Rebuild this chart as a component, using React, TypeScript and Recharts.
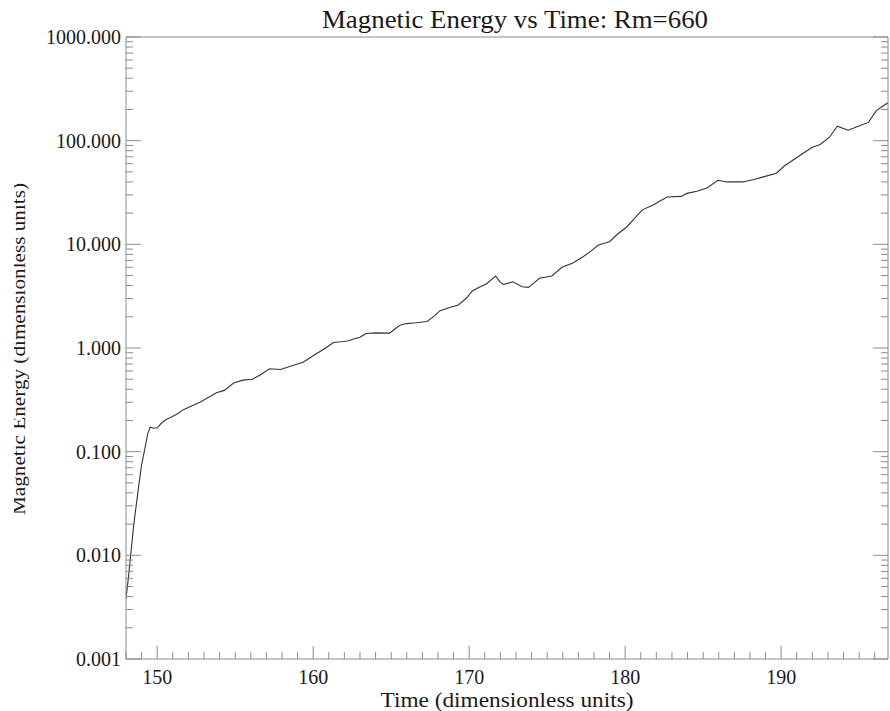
import React from 'react';
import { LineChart, Line, XAxis, YAxis } from 'recharts';

const times = [
  148.0, 148.15, 148.3, 148.5, 148.8, 149.0, 149.2, 149.4, 149.55, 149.8,
  150.0, 150.3, 150.6, 150.95, 151.3, 151.65, 152.2, 152.74, 153.3, 153.8,
  154.3, 154.9, 155.5, 156.1, 156.6, 157.2, 157.9, 158.6, 159.35, 160.2,
  160.8, 161.3, 161.8, 162.2, 162.6, 163.0, 163.4, 164.0, 164.9, 165.3,
  165.6, 166.0, 166.6, 167.3, 167.8, 168.1, 168.7, 169.3, 169.8, 170.2,
  170.7, 171.1, 171.7, 172.0, 172.2, 172.8, 173.4, 173.8, 174.2, 174.5,
  175.3, 175.95, 176.65, 177.3, 177.8, 178.26, 178.6, 179.0, 179.5, 180.1,
  180.6, 181.1, 181.8, 182.2, 182.7, 183.6, 183.96, 184.6, 185.24, 185.95,
  186.5, 187.55, 188.2, 188.8, 189.7, 190.2, 191.2, 191.97, 192.5, 193.1,
  193.6, 194.3, 194.9, 195.6, 196.1, 196.5, 196.85,
];

const magneticEnergy = [
  0.0038, 0.006, 0.010, 0.020, 0.045, 0.075, 0.105, 0.15, 0.172, 0.168,
  0.170, 0.19, 0.205, 0.217, 0.232, 0.253, 0.275, 0.30, 0.335, 0.37,
  0.39, 0.46, 0.49, 0.50, 0.55, 0.63, 0.62, 0.67, 0.73, 0.88,
  1.0, 1.13, 1.15, 1.17, 1.22, 1.27, 1.38, 1.40, 1.39, 1.55,
  1.67, 1.72, 1.75, 1.80, 2.05, 2.28, 2.45, 2.6, 3.0, 3.55,
  3.9, 4.15, 4.95, 4.3, 4.1, 4.35, 3.9, 3.85, 4.3, 4.7,
  4.95, 6.0, 6.6, 7.6, 8.6, 9.8, 10.2, 10.6, 12.5, 14.7,
  17.8, 21.5, 24, 26, 28.6, 29.0, 31, 32.5, 35, 41.5,
  40, 40, 42, 44.5, 48.5, 57, 72, 86, 92, 108,
  138, 126, 137, 150, 195, 215, 232,
];

const xTicks = [
  148, 149, 150, 151, 152, 153, 154, 155, 156, 157, 158, 159, 160, 161, 162, 163, 164,
  165, 166, 167, 168, 169, 170, 171, 172, 173, 174, 175, 176, 177, 178, 179, 180, 181,
  182, 183, 184, 185, 186, 187, 188, 189, 190, 191, 192, 193, 194, 195, 196,
];
const xMajorTicks = [150, 160, 170, 180, 190];

const yDecades = [0.001, 0.01, 0.1, 1, 10, 100, 1000];
const yDecadeLabels = ['0.001', '0.010', '0.100', '1.000', '10.000', '100.000', '1000.000'];
const yMinorMultipliers = [2, 3, 4, 5, 6, 7, 8, 9];

const titleText = 'Magnetic Energy vs Time: Rm=660';
const xLabelText = 'Time (dimensionless units)';
const yLabelText = 'Magnetic Energy (dimensionless units)';

const data = times.map((t, i) => ({ t, e: magneticEnergy[i] }));
const yTicks: number[] = [];
yDecades.forEach((d, i) => {
  yTicks.push(d);
  if (i < yDecades.length - 1) yMinorMultipliers.forEach((m) => yTicks.push(d * m));
});

const AXIS = '#8c8c8c';
const TEXT = '#1a1a1a';
const FONT = '"Liberation Serif", "Times New Roman", serif';
const MAJOR_LEN = 15;
const MINOR_LEN = 7;

const decadeIndex = (v: number) => {
  for (let i = 0; i < yDecades.length; i++) {
    if (Math.abs(v - yDecades[i]) / yDecades[i] < 1e-6) return i;
  }
  return -1;
};

const LeftTick = (props: any) => {
  const { x, y, payload } = props;
  const idx = decadeIndex(payload.value);
  const major = idx >= 0;
  return (
    <g>
      <line x1={x} x2={x + (major ? MAJOR_LEN : MINOR_LEN)} y1={y} y2={y} stroke={AXIS} />
      {major && (
        <text x={x - 5} y={y + 7} textAnchor="end" fontFamily={FONT} fontSize={20} fill={TEXT}>
          {yDecadeLabels[idx]}
        </text>
      )}
    </g>
  );
};

const RightTick = (props: any) => {
  const { x, y, payload } = props;
  const major = decadeIndex(payload.value) >= 0;
  return <line x1={x} x2={x - (major ? MAJOR_LEN : MINOR_LEN)} y1={y} y2={y} stroke={AXIS} />;
};

const BottomTick = (props: any) => {
  const { x, y, payload } = props;
  const major = xMajorTicks.includes(payload.value);
  return (
    <g>
      <line x1={x} x2={x} y1={y} y2={y - (major ? MAJOR_LEN - 2 : MINOR_LEN)} stroke={AXIS} />
      {major && (
        <text x={x} y={y + 25} textAnchor="middle" fontFamily={FONT} fontSize={20} fill={TEXT}>
          {payload.value}
        </text>
      )}
    </g>
  );
};

const TopTick = (props: any) => {
  const { x, y, payload } = props;
  const major = xMajorTicks.includes(payload.value);
  return <line x1={x} x2={x} y1={y} y2={y + (major ? MAJOR_LEN - 2 : MINOR_LEN)} stroke={AXIS} />;
};

export default function App() {
  return (
    <div style={{ position: 'absolute', left: 0, top: 0, width: 890, height: 711, background: '#fff' }}>
      <LineChart width={890} height={711} data={data} margin={{ top: 36, right: 1, bottom: 0, left: 0 }}>
        <XAxis
          xAxisId="b"
          dataKey="t"
          type="number"
          domain={[148, 196.85]}
          allowDataOverflow
          ticks={xTicks}
          interval={0}
          tickSize={0}
          tickMargin={0}
          tick={<BottomTick />}
          height={52}
          axisLine={{ stroke: AXIS }}
        />
        <XAxis
          xAxisId="t"
          orientation="top"
          type="number"
          domain={[148, 196.85]}
          allowDataOverflow
          ticks={xTicks}
          interval={0}
          tickSize={0}
          tickMargin={0}
          tick={<TopTick />}
          height={1}
          axisLine={{ stroke: AXIS }}
        />
        <YAxis
          yAxisId="l"
          type="number"
          scale="log"
          domain={[0.001, 1000]}
          allowDataOverflow
          ticks={yTicks}
          interval={0}
          tickSize={0}
          tickMargin={0}
          tick={<LeftTick />}
          width={126}
          axisLine={{ stroke: AXIS }}
        />
        <YAxis
          yAxisId="r"
          orientation="right"
          type="number"
          scale="log"
          domain={[0.001, 1000]}
          allowDataOverflow
          ticks={yTicks}
          interval={0}
          tickSize={0}
          tickMargin={0}
          tick={<RightTick />}
          width={1}
          axisLine={{ stroke: AXIS }}
        />
        <Line
          xAxisId="b"
          yAxisId="l"
          dataKey="e"
          type="linear"
          dot={false}
          stroke="#333333"
          strokeWidth={1.1}
          isAnimationActive={false}
        />
      </LineChart>
      <svg
        width={890}
        height={711}
        style={{ position: 'absolute', left: 0, top: 0, pointerEvents: 'none' }}
      >
        <defs>
          <clipPath id="ylabel-clip" clipPathUnits="userSpaceOnUse">
            <rect x={14} y={0} width={40} height={711} />
          </clipPath>
        </defs>
        <text
          x={515}
          y={28}
          textAnchor="middle"
          fontFamily={FONT}
          fontSize={25}
          fill={TEXT}
          textLength={386}
          lengthAdjust="spacingAndGlyphs"
        >
          {titleText}
        </text>
        <text
          x={507}
          y={707}
          textAnchor="middle"
          fontFamily={FONT}
          fontSize={20}
          fill={TEXT}
          textLength={253}
          lengthAdjust="spacingAndGlyphs"
        >
          {xLabelText}
        </text>
        <g clipPath="url(#ylabel-clip)">
          <text
            transform="rotate(-90)"
            x={-349}
            y={25}
            textAnchor="middle"
            fontFamily={FONT}
            fontSize={19}
            fill={TEXT}
            textLength={332}
            lengthAdjust="spacingAndGlyphs"
          >
            {yLabelText}
          </text>
        </g>
      </svg>
    </div>
  );
}
